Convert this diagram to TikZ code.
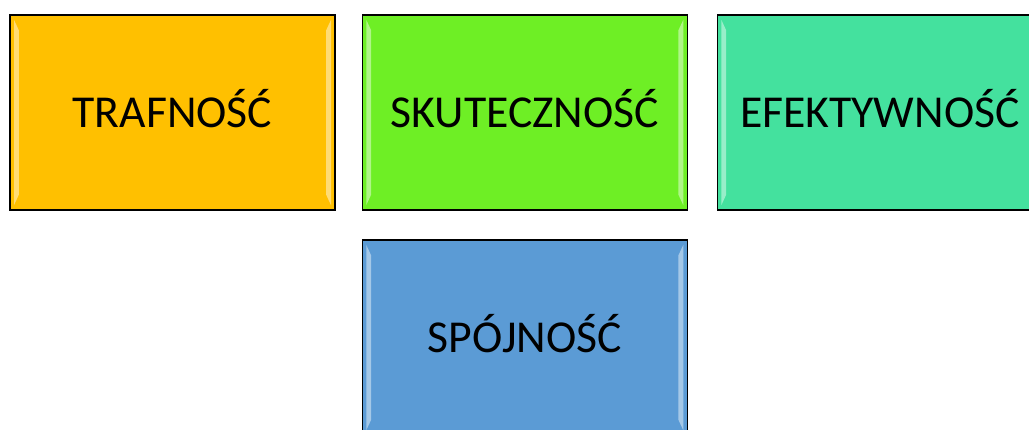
\documentclass[tikz,border=0pt]{standalone}
\usepackage{fontspec}
\setmainfont{Carlito}
\usetikzlibrary{positioning}
\definecolor{trafcol}{HTML}{FFC000}
\definecolor{skutcol}{HTML}{6EEF25}
\definecolor{efekcol}{HTML}{44E19E}
\definecolor{spojcol}{HTML}{5B9BD5}
\tikzset{
  panel/.style={draw=black, line width=0.9pt, minimum width=8.125cm,
    minimum height=4.875cm, inner sep=0pt, text height=21pt, text depth=0pt,
    font=\fontsize{32.5}{36}\selectfont,
    path picture={
      % light bevel strips at the sides
      \fill[white,opacity=0.45]
        ([shift={(0.1,-0.12)}]path picture bounding box.north west) --
        ([shift={(0.22,-0.38)}]path picture bounding box.north west) --
        ([shift={(0.22,0.38)}]path picture bounding box.south west) --
        ([shift={(0.1,0.12)}]path picture bounding box.south west) -- cycle;
      \fill[white,opacity=0.45]
        ([shift={(-0.1,-0.12)}]path picture bounding box.north east) --
        ([shift={(-0.22,-0.38)}]path picture bounding box.north east) --
        ([shift={(-0.22,0.38)}]path picture bounding box.south east) --
        ([shift={(-0.1,0.12)}]path picture bounding box.south east) -- cycle;
    }}
}
\begin{document}
\begin{tikzpicture}
  % page size
  \useasboundingbox (0,0) rectangle (25.725,-10.75);
  \clip (0,0) rectangle (25.725,-10.75);
  % boxes
  \node[panel, fill=trafcol] (traf) at (4.3125,-2.8125) {TRAFNOŚĆ};
  \node[panel, fill=skutcol, right=0.65cm of traf] (skut) {SKUTECZNOŚĆ};
  \node[panel, fill=efekcol, right=0.72cm of skut] (efek) {EFEKTYWNOŚĆ};
  \node[panel, fill=spojcol, below=0.72cm of skut] (spoj) {SPÓJNOŚĆ};
\end{tikzpicture}
\end{document}
